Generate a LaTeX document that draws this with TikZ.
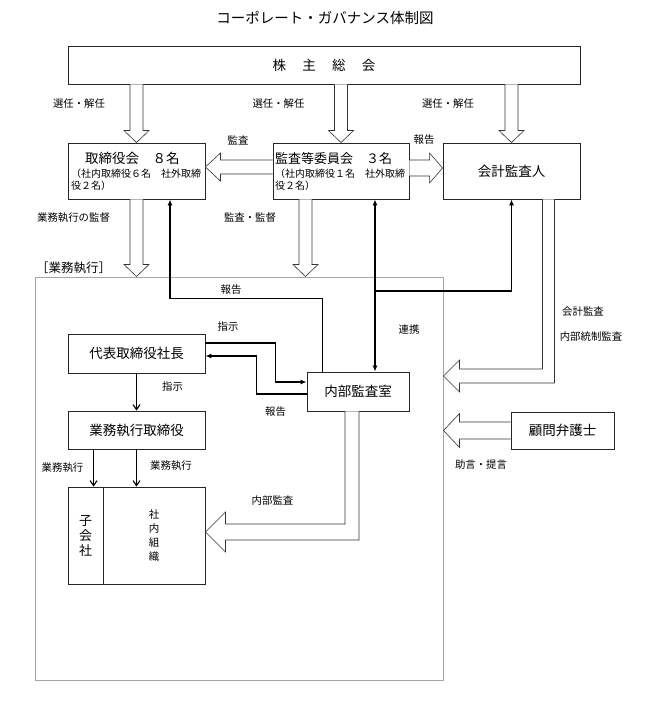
\documentclass[tikz,border=0pt]{standalone}
\usepackage{fontspec}
\setmainfont{Noto Sans CJK JP}
\usetikzlibrary{positioning, calc, arrows.meta}

% hollow block arrow pointing down, from #1 to the tip #2
\newcommand{\hollowdown}[2]{%
  \draw[hollow] ($(#1)+(-6.5,0)$) -- ($(#2)+(-6.5,-12)$) -- ++(-6,0) -- (#2)
    -- ++(12.5,-12) -- ++(-6,0) -- ($(#1)+(6.5,0)$);}

\begin{document}
\begin{tikzpicture}[x=1pt, y=-1pt,
    box/.style={draw=black!85, line width=0.9pt, inner sep=0pt, font=\fontsize{13.5}{16}\selectfont},
    lbl/.style={inner sep=0pt, font=\fontsize{10.4}{12}\selectfont},
    hollow/.style={draw=black!80, line width=0.6pt, fill=white, line join=miter},
    arr/.style={line width=1.1pt, -{Latex[length=6pt,width=5pt]}},
    barb/.style={line width=1.1pt, -{Straight Barb[length=5pt,width=7pt]}},
    frame/.style={draw=black!35, line width=1pt}]
  \useasboundingbox (0,0) rectangle (648,719);

  \node (title) at (325,18) {\fontsize{14.5}{17}\selectfont コーポレート・ガバナンス体制図};

  % main boxes
  \node[box, minimum width=512, minimum height=38] (gm) at (324,65)
    {株\hspace{1.2em}主\hspace{1.2em}総\hspace{1.2em}会};
  \node[box, minimum width=137, minimum height=56, text width=131, align=left,
    font=\fontsize{10}{12}\selectfont] (bod) at (136.5,171)
    {{\fontsize{13.5}{15}\selectfont\hspace*{14pt}取締役会　８名}\\[2pt]（社内取締役６名　社外取締\\役２名）};
  \node[box, minimum width=136, minimum height=56, text width=132, align=left,
    font=\fontsize{10}{12}\selectfont] (ac) at (341,171)
    {{\fontsize{13}{15}\selectfont 監査等委員会　３名}\\[2pt]（社内取締役１名　社外取締\\役２名）};
  \node[box, minimum width=137, minimum height=56] (ca) at (511.5,171) {会計監査人};

  % business execution area
  \node[frame, minimum width=408, minimum height=403] (exec) at (239,478.5) {};
  \node[anchor=west, inner sep=0pt, font=\fontsize{12.5}{14}\selectfont] (execlbl) at (36,268) {［業務執行］};

  \node[box, minimum width=137, minimum height=39] (pres) at (136.5,353.5) {代表取締役社長};
  \node[box, minimum width=137, minimum height=38] (exd) at (136.5,430) {業務執行取締役};
  \node[box, minimum width=102, minimum height=39] (ia) at (358,391.5) {内部監査室};
  \node[box, minimum width=103, minimum height=37] (law) at (562.5,430.5) {顧問弁護士};
  \node[box, minimum width=35, minimum height=97, align=center,
    font=\fontsize{13}{15}\selectfont] (sub) at (85.5,535.5) {子\\会\\社};
  \node[box, minimum width=102, minimum height=97, align=center,
    font=\fontsize{10.5}{14.3}\selectfont] (org) at (154,535.5) {社\\内\\組\\織};

  % block arrows
  \hollowdown{gm.south -| bod.north}{bod.north}
  \hollowdown{gm.south -| ac.north}{ac.north}
  \hollowdown{gm.south -| ca.north}{ca.north}
  \hollowdown{bod.south}{bod.south |- exec.north}
  \coordinate (acdown) at ($(ac.south)+(-35.5,0)$);
  \hollowdown{acdown}{acdown |- exec.north}

  \draw[hollow] ($(ac.west)+(0,-11)$) -- ($(bod.east)+(15,-11)$) -- ++(0,-7) -- ($(bod.east)+(0,-4)$)
    -- ($(bod.east)+(15,10)$) -- ++(0,-7) -- ($(ac.west)+(0,3)$);
  \draw[hollow] ($(ac.east)+(0,-11)$) -- ($(ca.west)+(-13,-11)$) -- ++(0,-7) -- ($(ca.west)+(0,-3)$)
    -- ($(ca.west)+(-13,12)$) -- ++(0,-7) -- ($(ac.east)+(0,5)$);

  \coordinate (catip) at (exec.east |- 0,376);
  \draw[hollow] ($(ca.south)+(31,0)$) |- ($(catip)+(16,-7)$) -- ++(0,-9) -- (catip)
    -- ++(16,16) -- ++(0,-9) -| ($(ca.south)+(43,0)$);
  \draw[hollow] ($(law.west)+(0,-8.5)$) -- ($(exec.east |- law.west)+(16,-8.5)$) -- ++(0,-8.5)
    -- (exec.east |- law.west) -- ++(16,17) -- ++(0,-8.5) -- ($(law.west)+(0,8.5)$);
  \coordinate (orgtip) at ($(org.east)+(0,-3.5)$);
  \draw[hollow] ($(ia.south)+(-13,0)$) |- ($(orgtip)+(20,-8)$) -- ++(0,-12) -- (orgtip)
    -- ++(20,20) -- ++(0,-12) -| ($(ia.south)+(1,0)$);

  % line arrows
  \draw[arr] ($(ia.north west)+(16,0)$) -- ++(0,-73) -| ($(bod.south)+(33.5,0)$);
  \coordinate (lk) at ($(ac.south)+(34,0)$);
  \draw[line width=1.1pt, {Latex[length=6pt,width=5pt]}-{Latex[length=6pt,width=5pt]}] (lk) -- (lk |- ia.north);
  \draw[arr] (lk |- 0,291) -| (ca.south);
  \draw[arr] ($(pres.east)+(0,-10.5)$) -- ++(70,0) |- ($(ia.west)+(0,-9.5)$);
  \draw[arr] ($(ia.west)+(0,2.5)$) -| ($(pres.east)+(51,2.5)$) -- ($(pres.east)+(0,2.5)$);
  \draw[barb] (pres.south) -- (exd.north);
  \coordinate (exsub) at ($(exd.south west)+(26,0)$);
  \draw[barb] (exsub) -- (exsub |- sub.north);
  \draw[barb] (exd.south) -- (exd.south |- org.north);

  % labels
  \node[lbl] (sel1) at (79,104) {選任・解任};
  \node[lbl] (sel2) at (278.5,104) {選任・解任};
  \node[lbl] (sel3) at (448,104) {選任・解任};
  \node[lbl] (audit1) at (238,140) {監査};
  \node[lbl] (report1) at (424,140) {報告};
  \node[lbl] (superv) at (73.5,218) {業務執行の監督};
  \node[lbl] (audit2) at (250,218) {監査・監督};
  \node[lbl] (report2) at (231,290) {報告};
  \node[lbl] (instr1) at (228,327) {指示};
  \node[lbl] (coop) at (409,330) {連携};
  \node[lbl] (acct) at (583,312) {会計監査};
  \node[lbl] (icaudit) at (591,337) {内部統制監査};
  \node[lbl] (instr2) at (172.5,387) {指示};
  \node[lbl] (report3) at (275.5,412) {報告};
  \node[lbl] (advice) at (481,465) {助言・提言};
  \node[lbl] (exec1) at (62.5,468) {業務執行};
  \node[lbl] (exec2) at (171,466) {業務執行};
  \node[lbl] (inaudit) at (272.5,501) {内部監査};
\end{tikzpicture}
\end{document}
